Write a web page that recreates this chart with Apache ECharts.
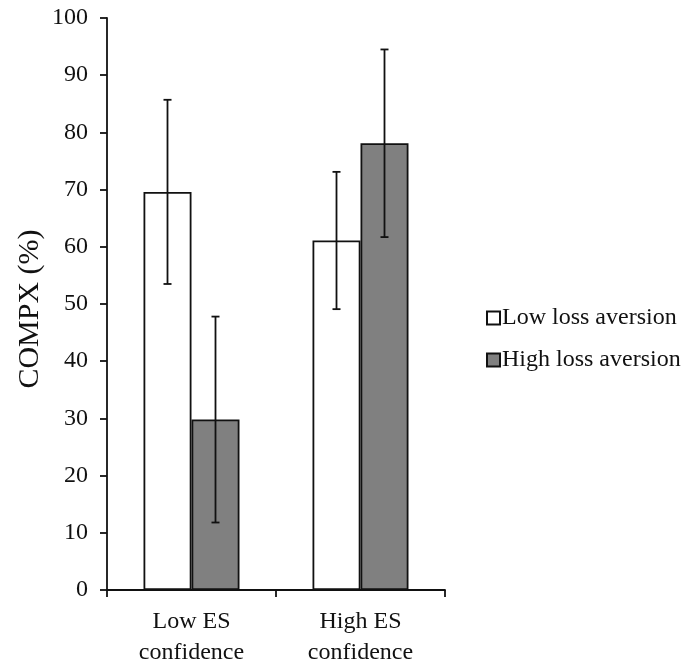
<!DOCTYPE html>
<html><head><meta charset="utf-8">
<script src="https://cdn.jsdelivr.net/npm/echarts@6/dist/echarts.min.js"></script>
<style>html,body{margin:0;padding:0;background:#fff}#c{width:686px;height:661px}</style>
</head><body><div id="c"></div>
<script>
var categories = ['Low ES\nconfidence', 'High ES\nconfidence'];
var seriesNames = ['Low loss aversion', 'High loss aversion'];
var lowLossValues = [69.6, 61.1];
var lowLossErr = [16.1, 12.0];
var highLossValues = [29.8, 78.1];
var highLossErr = [18.0, 16.4];
var yTicks = [0, 10, 20, 30, 40, 50, 60, 70, 80, 90, 100];

var FONT = '"Liberation Serif", "Times New Roman", serif';
var BAR_FRAC = 0.284;

function errSeries(values, errs, side) {
  return {
    type: 'custom',
    silent: true,
    z: 10,
    data: values.map(function (v, i) { return [i, v - errs[i], v + errs[i]]; }),
    renderItem: function (params, api) {
      var catW = api.size([1, 0])[0];
      var off = side * catW * BAR_FRAC / 2;
      var lo = api.coord([api.value(0), api.value(1)]);
      var hi = api.coord([api.value(0), api.value(2)]);
      var x = lo[0] + off;
      var cap = 4;
      var st = { stroke: '#111', lineWidth: 1.8 };
      return {
        type: 'group',
        children: [
          { type: 'line', shape: { x1: x, y1: lo[1], x2: x, y2: hi[1] }, style: st },
          { type: 'line', shape: { x1: x - cap, y1: lo[1], x2: x + cap, y2: lo[1] }, style: st },
          { type: 'line', shape: { x1: x - cap, y1: hi[1], x2: x + cap, y2: hi[1] }, style: st }
        ]
      };
    },
    encode: { x: 0, y: [1, 2] }
  };
}

var chart = echarts.init(document.getElementById('c'));
chart.setOption({
  animation: false,
  backgroundColor: '#fff',
  textStyle: { fontFamily: FONT, color: '#111' },
  grid: { left: 107, right: 241, top: 18, bottom: 71, containLabel: false, outerBoundsMode: 'none' },
  legend: {
    orient: 'vertical',
    left: 481,
    top: 300,
    itemWidth: 13,
    itemHeight: 13,
    itemGap: 16,
    icon: 'rect',
    selectedMode: false,
    textStyle: { fontFamily: FONT, fontSize: 24, color: '#111', padding: [0, 0, 0, -3], lineHeight: 26 },
    data: seriesNames
  },
  xAxis: {
    type: 'category',
    data: categories,
    boundaryGap: true,
    axisLine: { lineStyle: { color: '#111', width: 1.8 } },
    axisTick: { show: true, length: 7, lineStyle: { color: '#111', width: 1.8 } },
    axisLabel: { fontFamily: FONT, fontSize: 24, color: '#111', lineHeight: 31, margin: 16 }
  },
  yAxis: {
    type: 'value',
    min: 0, max: 100, interval: 10,
    name: 'COMPX (%)',
    nameLocation: 'middle',
    nameGap: 62,
    nameRotate: 90,
    nameTextStyle: { fontFamily: FONT, fontSize: 30, color: '#111', padding: [0, 10, 0, 0] },
    axisLine: { show: true, lineStyle: { color: '#111', width: 1.8 } },
    axisTick: { show: true, length: 7, lineStyle: { color: '#111', width: 1.8 } },
    splitLine: { show: false },
    axisLabel: {
      fontFamily: FONT, fontSize: 24, color: '#111', margin: 19,
      formatter: function (v) { return yTicks.indexOf(v) >= 0 ? String(v) : ''; }
    }
  },
  series: [
    {
      name: seriesNames[0], type: 'bar', data: lowLossValues,
      barWidth: (BAR_FRAC * 100) + '%', barGap: '0%',
      itemStyle: { color: '#ffffff', borderColor: '#111', borderWidth: 1.8 }
    },
    {
      name: seriesNames[1], type: 'bar', data: highLossValues,
      barWidth: (BAR_FRAC * 100) + '%', barGap: '0%',
      itemStyle: { color: '#808080', borderColor: '#111', borderWidth: 1.8 }
    },
    errSeries(lowLossValues, lowLossErr, -1),
    errSeries(highLossValues, highLossErr, 1)
  ]
});
</script></body></html>
